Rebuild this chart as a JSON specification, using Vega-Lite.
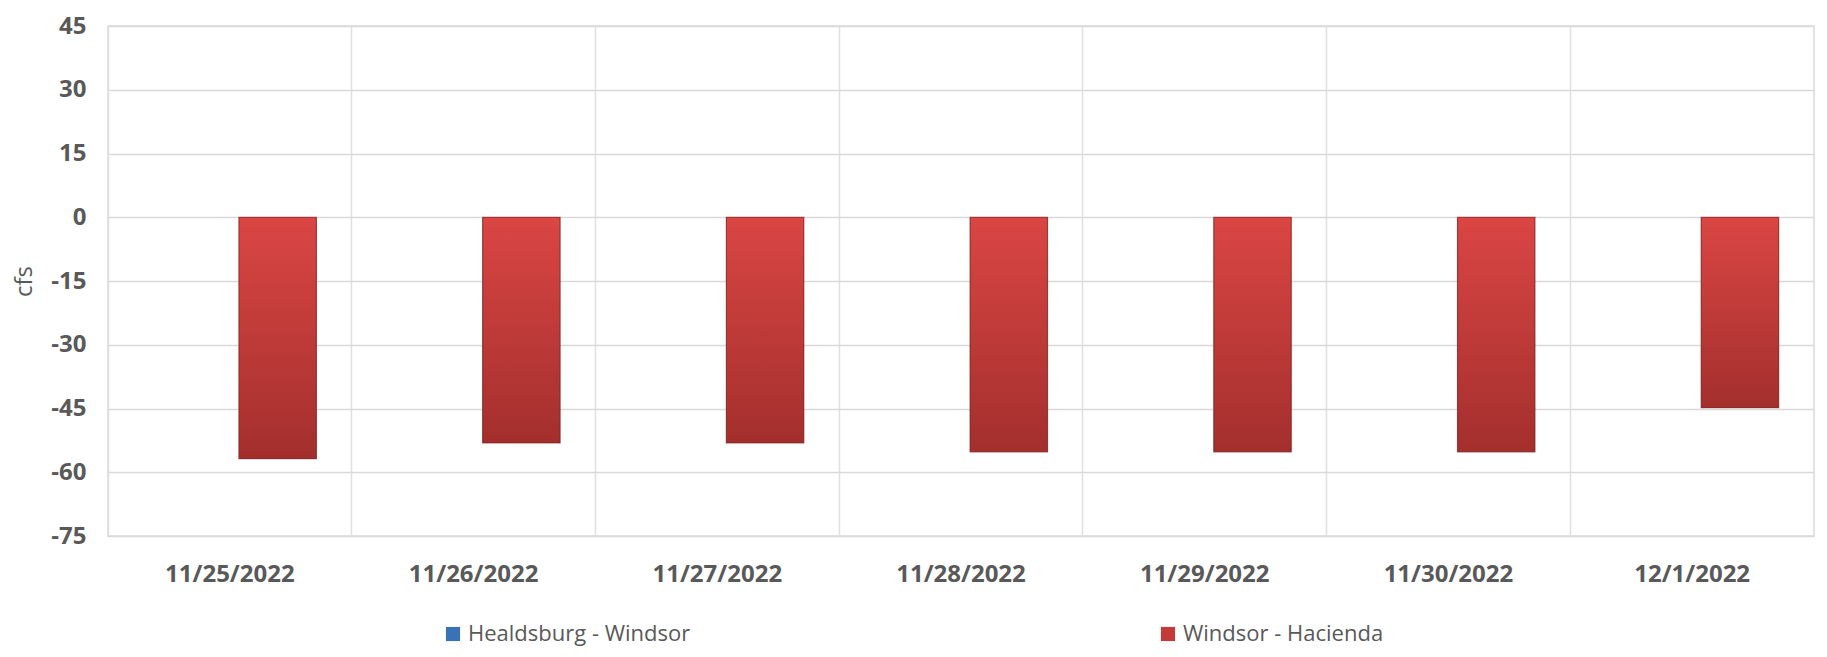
{
  "$schema": "https://vega.github.io/schema/vega-lite/v6.json",
  "autosize": {"type": "none"},
  "padding": {"left": 108, "top": 26, "right": 13, "bottom": 121},
  "width": 1706,
  "height": 510,
  "background": "white",
  "data": {
    "values": [
      {"date": "11/25/2022", "series": "Healdsburg - Windsor", "cfs": 0},
      {"date": "11/25/2022", "series": "Windsor - Hacienda", "cfs": -56.8},
      {"date": "11/26/2022", "series": "Healdsburg - Windsor", "cfs": 0},
      {"date": "11/26/2022", "series": "Windsor - Hacienda", "cfs": -53.1},
      {"date": "11/27/2022", "series": "Healdsburg - Windsor", "cfs": 0},
      {"date": "11/27/2022", "series": "Windsor - Hacienda", "cfs": -53.1},
      {"date": "11/28/2022", "series": "Healdsburg - Windsor", "cfs": 0},
      {"date": "11/28/2022", "series": "Windsor - Hacienda", "cfs": -55.2},
      {"date": "11/29/2022", "series": "Healdsburg - Windsor", "cfs": 0},
      {"date": "11/29/2022", "series": "Windsor - Hacienda", "cfs": -55.2},
      {"date": "11/30/2022", "series": "Healdsburg - Windsor", "cfs": 0},
      {"date": "11/30/2022", "series": "Windsor - Hacienda", "cfs": -55.2},
      {"date": "12/1/2022", "series": "Healdsburg - Windsor", "cfs": 0},
      {"date": "12/1/2022", "series": "Windsor - Hacienda", "cfs": -44.8}
    ]
  },
  "encoding": {
    "x": {
      "field": "date",
      "type": "nominal",
      "sort": null,
      "scale": {"paddingInner": 0.29, "paddingOuter": 0.145},
      "axis": {
        "title": null,
        "labelAngle": 0,
        "labelFont": "Open Sans",
        "labelFontWeight": "bold",
        "labelFontSize": 24,
        "labelColor": "#595959",
        "labelPadding": 26,
        "ticks": false,
        "domain": false,
        "grid": true,
        "bandPosition": -0.204,
        "gridColor": "#e0e0e0",
        "gridWidth": 1.5
      }
    },
    "xOffset": {
      "field": "series",
      "type": "nominal",
      "scale": {"domain": ["Healdsburg - Windsor", "Windsor - Hacienda"], "paddingInner": 0.19}
    },
    "y": {
      "field": "cfs",
      "type": "quantitative",
      "scale": {"domain": [-75, 45], "nice": false, "zero": false},
      "axis": {
        "values": [-75, -60, -45, -30, -15, 0, 15, 30, 45],
        "labelExpr": "datum.value < 0 ? '-' + abs(datum.value) : '' + datum.value",
        "title": "cfs",
        "titleFont": "Open Sans",
        "titleFontWeight": "normal",
        "titleFontSize": 24,
        "titleColor": "#595959",
        "titlePadding": 14,
        "labelFont": "Open Sans",
        "labelFontWeight": "bold",
        "labelFontSize": 24,
        "labelColor": "#595959",
        "labelPadding": 22,
        "ticks": false,
        "domain": false,
        "gridColor": "#d9d9d9",
        "gridWidth": 1.5
      }
    }
  },
  "layer": [
    {
      "mark": {"type": "bar"},
      "encoding": {
        "color": {
          "field": "series",
          "type": "nominal",
          "scale": {
            "domain": ["Healdsburg - Windsor", "Windsor - Hacienda"],
            "range": ["#3a72b5", "#c33b39"]
          },
          "legend": {
            "title": null,
            "orient": "none",
            "legendX": 334,
            "legendY": 597,
            "direction": "horizontal",
            "symbolType": "square",
            "symbolSize": 200,
            "symbolStrokeWidth": 0,
            "labelFont": "Open Sans",
            "labelFontSize": 22,
            "labelColor": "#595959",
            "labelOffset": 4,
            "columnPadding": 466,
            "labelLimit": 400
          }
        }
      }
    },
    {
      "transform": [{"filter": "datum.series === 'Windsor - Hacienda'"}],
      "mark": {
        "type": "bar",
        "stroke": "#7e2523",
        "strokeWidth": 1.2,
        "strokeOpacity": 0.7,
        "fill": {"gradient": "linear", "x1": 0, "y1": 0, "x2": 0, "y2": 1, "stops": [{"offset": 0, "color": "#da4644"}, {"offset": 1, "color": "#a32f2d"}]}
      }
    }
  ],
  "config": {
    "view": {"stroke": "#d9d9d9", "strokeWidth": 1.5}
  }
}
